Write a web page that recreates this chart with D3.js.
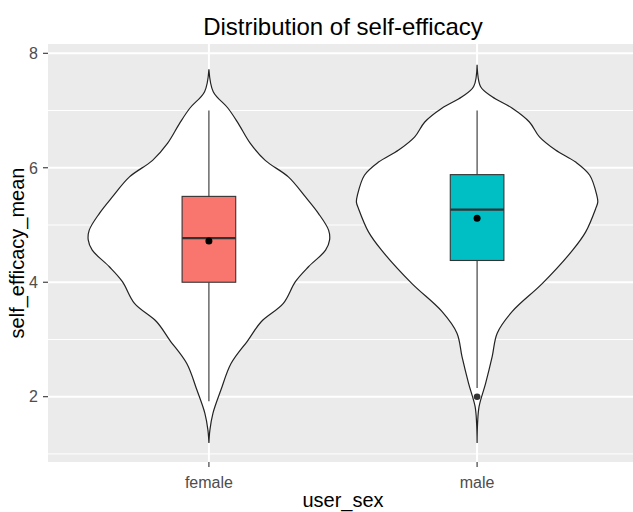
<!DOCTYPE html>
<html>
<head>
<meta charset="utf-8">
<script src="https://cdn.jsdelivr.net/npm/d3@7"></script>
<style>
  body { margin: 0; background: #fff; }
  svg { display: block; font-family: "Liberation Sans", Arial, sans-serif; }
</style>
</head>
<body>
<script>
// categories and summary stats
const categories = ["female", "male"];
const fillColors = ["#F8766D", "#00BFC4"];

const q1 = [4.0, 4.38];
const medians = [4.77, 5.27];
const q3 = [5.5, 5.88];
const whiskerLow = [1.92, 2.15];
const whiskerHigh = [7.0, 7.0];
const means = [4.72, 5.12];
const outliers = [[], [2.0]];

// violin outline: value and relative density
const femaleValues = [1.19, 1.42, 1.71, 2.12, 2.58, 2.99, 3.31, 3.63, 4.01, 4.27, 4.56, 4.74, 4.91, 5.20, 5.49, 5.84, 6.13, 6.43, 6.78, 7.04, 7.33, 7.72];
const femaleDensity = [0, 1, 4, 12, 22, 39, 52, 74, 86, 99, 116, 120, 119, 109, 96, 79, 56, 41, 29, 19, 4.3, 0];
const maleValues = [1.19, 1.54, 1.83, 2.23, 2.70, 3.11, 3.49, 3.98, 4.56, 4.88, 5.29, 5.40, 5.52, 5.87, 6.10, 6.31, 6.54, 6.80, 7.04, 7.24, 7.42, 7.80];
const maleDensity = [0, 0.5, 2, 8.4, 15, 20, 35, 65, 95, 108, 118, 120, 119, 112, 98, 78, 62, 52, 35, 15, 3.4, 0];

const yTicks = [2, 4, 6, 8];
const yMinor = [1, 3, 5, 7];

const violins = [
  { cat: "female", pts: femaleValues.map((v, i) => ({ v, d: femaleDensity[i] })) },
  { cat: "male", pts: maleValues.map((v, i) => ({ v, d: maleDensity[i] })) }
];

const W = 633, H = 512;
const panel = { left: 48, right: 638, top: 44, bottom: 462 };

const svg = d3.select("body").append("svg")
  .attr("width", W)
  .attr("height", H);

const x = d3.scalePoint()
  .domain(categories)
  .range([panel.left, panel.right])
  .padding(0.6);

const y = d3.scaleLinear()
  .domain([0.859, 8.1625])
  .range([panel.bottom, panel.top]);

const step = x.step();
const wScale = d3.scaleLinear()
  .domain([0, d3.max([...femaleDensity, ...maleDensity])])
  .range([0, 0.45 * step]);

// panel background
svg.append("rect")
  .attr("x", panel.left).attr("y", panel.top)
  .attr("width", panel.right - panel.left)
  .attr("height", panel.bottom - panel.top)
  .attr("fill", "#EBEBEB");

// gridlines
svg.selectAll(".minor").data(yMinor).enter().append("line")
  .attr("x1", panel.left).attr("x2", panel.right)
  .attr("y1", d => y(d)).attr("y2", d => y(d))
  .attr("stroke", "#fff").attr("stroke-width", 1);

svg.selectAll(".major").data(yTicks).enter().append("line")
  .attr("x1", panel.left).attr("x2", panel.right)
  .attr("y1", d => y(d)).attr("y2", d => y(d))
  .attr("stroke", "#fff").attr("stroke-width", 2);

svg.selectAll(".vmajor").data(categories).enter().append("line")
  .attr("x1", d => x(d)).attr("x2", d => x(d))
  .attr("y1", panel.top).attr("y2", panel.bottom)
  .attr("stroke", "#fff").attr("stroke-width", 2);

// violins
violins.forEach(vd => {
  const cx = x(vd.cat);
  const area = d3.area()
    .y(p => y(p.v))
    .x0(p => cx - wScale(p.d))
    .x1(p => cx + wScale(p.d))
    .curve(d3.curveCatmullRom);
  svg.append("path")
    .datum(vd.pts)
    .attr("d", area)
    .attr("fill", "#fff")
    .attr("stroke", "#222")
    .attr("stroke-width", 1.2);
});

// boxplots
const boxHalf = 0.1 * step;
categories.forEach((c, i) => {
  const cx = x(c);
  const g = svg.append("g");
  g.append("line")
    .attr("x1", cx).attr("x2", cx)
    .attr("y1", y(q3[i])).attr("y2", y(whiskerHigh[i]))
    .attr("stroke", "#333").attr("stroke-width", 1.1);
  g.append("line")
    .attr("x1", cx).attr("x2", cx)
    .attr("y1", y(q1[i])).attr("y2", y(whiskerLow[i]))
    .attr("stroke", "#333").attr("stroke-width", 1.1);
  g.append("rect")
    .attr("x", cx - boxHalf).attr("y", y(q3[i]))
    .attr("width", 2 * boxHalf)
    .attr("height", y(q1[i]) - y(q3[i]))
    .attr("fill", fillColors[i])
    .attr("stroke", "#333").attr("stroke-width", 1.1);
  g.append("line")
    .attr("x1", cx - boxHalf).attr("x2", cx + boxHalf)
    .attr("y1", y(medians[i])).attr("y2", y(medians[i]))
    .attr("stroke", "#333").attr("stroke-width", 2.2);
  outliers[i].forEach(o => {
    g.append("circle")
      .attr("cx", cx).attr("cy", y(o)).attr("r", 3.3)
      .attr("fill", "#333");
  });
  g.append("circle")
    .attr("cx", cx).attr("cy", y(means[i])).attr("r", 3.5)
    .attr("fill", "#000");
});

// axes ticks and labels
svg.selectAll(".ytick").data(yTicks).enter().append("line")
  .attr("x1", panel.left - 5).attr("x2", panel.left)
  .attr("y1", d => y(d)).attr("y2", d => y(d))
  .attr("stroke", "#333").attr("stroke-width", 1.1);

svg.selectAll(".ylab").data(yTicks).enter().append("text")
  .attr("x", panel.left - 10)
  .attr("y", d => y(d))
  .attr("dy", "0.36em")
  .attr("text-anchor", "end")
  .attr("font-size", "16px")
  .attr("fill", "#4D4D4D")
  .text(d => d);

svg.selectAll(".xtick").data(categories).enter().append("line")
  .attr("x1", d => x(d)).attr("x2", d => x(d))
  .attr("y1", panel.bottom).attr("y2", panel.bottom + 5)
  .attr("stroke", "#333").attr("stroke-width", 1.1);

svg.selectAll(".xlab").data(categories).enter().append("text")
  .attr("x", d => x(d))
  .attr("y", 488)
  .attr("text-anchor", "middle")
  .attr("font-size", "16px")
  .attr("fill", "#4D4D4D")
  .text(d => d);

// titles
const midX = (panel.left + panel.right) / 2;
svg.append("text")
  .attr("x", midX).attr("y", 35)
  .attr("text-anchor", "middle")
  .attr("font-size", "24px")
  .attr("fill", "#000")
  .text("Distribution of self-efficacy");

svg.append("text")
  .attr("x", midX).attr("y", 507)
  .attr("text-anchor", "middle")
  .attr("font-size", "20px")
  .attr("fill", "#000")
  .text("user_sex");

svg.append("text")
  .attr("transform", `translate(24,${(panel.top + panel.bottom) / 2}) rotate(-90)`)
  .attr("text-anchor", "middle")
  .attr("font-size", "20px")
  .attr("fill", "#000")
  .text("self_efficacy_mean");
</script>
</body>
</html>
